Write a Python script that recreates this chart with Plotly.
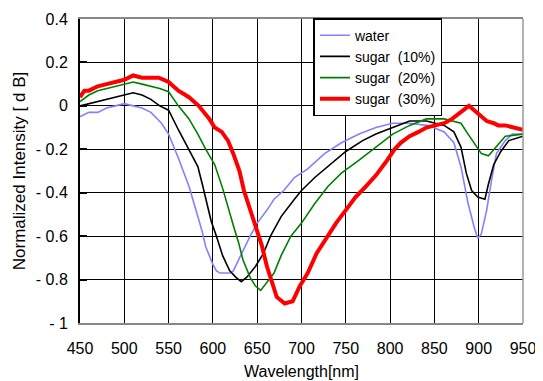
import plotly.graph_objects as go

# ---- data ----
water_wl = [450,460,470,480,490,500,510,520,530,542,550,561,573,583,588,592,600,604,608,614,619,623,630,642,650,661,669,680,692,707,726,745,765,784,803,822,841,849,861,872,880,888,895,899,903,909,915,920,930,938,950]
water_v = [-0.05,-0.03,-0.03,-0.01,0.0,0.01,0.0,-0.01,-0.03,-0.08,-0.13,-0.24,-0.37,-0.51,-0.58,-0.65,-0.73,-0.76,-0.77,-0.77,-0.77,-0.76,-0.70,-0.60,-0.54,-0.48,-0.43,-0.39,-0.33,-0.29,-0.22,-0.17,-0.13,-0.10,-0.08,-0.08,-0.09,-0.10,-0.12,-0.17,-0.28,-0.45,-0.56,-0.61,-0.59,-0.48,-0.33,-0.22,-0.16,-0.13,-0.13]

s10_wl = [450,460,470,480,490,500,510,520,530,540,550,561,573,583,588,592,598,604,611,619,626,632,638,648,657,665,677,692,700,715,730,750,769,784,803,822,841,861,872,880,886,892,899,907,911,917,925,934,950]
s10_v = [0.0,0.01,0.02,0.03,0.04,0.05,0.06,0.05,0.03,0.0,-0.02,-0.11,-0.20,-0.28,-0.36,-0.43,-0.53,-0.60,-0.69,-0.76,-0.79,-0.81,-0.79,-0.74,-0.68,-0.60,-0.51,-0.43,-0.39,-0.33,-0.28,-0.21,-0.16,-0.13,-0.10,-0.07,-0.07,-0.09,-0.12,-0.19,-0.31,-0.39,-0.42,-0.43,-0.36,-0.27,-0.21,-0.16,-0.14]

s20_wl = [450,460,470,480,490,500,510,520,530,540,550,561,573,583,592,602,611,617,623,629,634,642,648,654,661,669,677,688,700,715,730,745,765,784,803,822,841,861,880,888,895,903,911,919,930,950]
s20_v = [0.02,0.05,0.07,0.08,0.09,0.10,0.11,0.10,0.09,0.08,0.065,0.0,-0.06,-0.13,-0.20,-0.27,-0.38,-0.47,-0.55,-0.63,-0.71,-0.79,-0.83,-0.85,-0.81,-0.77,-0.69,-0.60,-0.54,-0.45,-0.37,-0.31,-0.25,-0.19,-0.13,-0.09,-0.06,-0.06,-0.08,-0.13,-0.17,-0.22,-0.23,-0.19,-0.14,-0.13]

s30_wl = [450,455,460,470,480,490,500,510,520,530,539,550,561,573,584,596,602,610,617,623,630,635,642,650,655,661,667,672,681,690,698,707,717,728,739,750,761,773,784,795,805,812,822,832,841,851,861,870,876,882,889,892,898,903,909,917,922,930,940,950]
s30_v = [0.04,0.07,0.07,0.09,0.10,0.11,0.12,0.14,0.13,0.13,0.13,0.11,0.07,0.04,0.0,-0.06,-0.10,-0.12,-0.16,-0.22,-0.30,-0.39,-0.48,-0.57,-0.64,-0.74,-0.82,-0.88,-0.91,-0.90,-0.83,-0.77,-0.68,-0.61,-0.54,-0.48,-0.42,-0.37,-0.32,-0.26,-0.20,-0.17,-0.14,-0.12,-0.10,-0.09,-0.08,-0.06,-0.04,-0.02,0.0,-0.01,-0.03,-0.05,-0.07,-0.08,-0.09,-0.09,-0.10,-0.11]

series_names = ["water", "sugar\u00a0 (10%)", "sugar\u00a0 (20%)", "sugar\u00a0 (30%)"]

x_ticks = [450, 500, 550, 600, 650, 700, 750, 800, 850, 900, 950]
y_ticks = [0.4, 0.2, 0, -0.2, -0.4, -0.6, -0.8, -1]
y_ticktext = ["0.4", "0.2", "0", "- 0.2", "- 0.4", "- 0.6", "- 0.8", "- 1"]

FONT = "Liberation Sans, Arial, sans-serif"

fig = go.Figure()
styles = [("#8282ff", 1.6), ("#000000", 1.6), ("#008000", 1.6), ("#ff0000", 4)]
for (wl, v), name, (c, w) in zip([(water_wl, water_v), (s10_wl, s10_v), (s20_wl, s20_v), (s30_wl, s30_v)], series_names, styles):
    fig.add_trace(go.Scatter(x=wl, y=v, mode="lines", name=name,
                             line=dict(color=c, width=w)))

# page body has an 8px margin, so the figure is 8px smaller and margins shifted
fig.update_layout(
    width=535, height=373,
    margin=dict(l=72, r=20, t=11, b=58, autoexpand=False),
    paper_bgcolor="white", plot_bgcolor="white",
    font=dict(family=FONT, size=16, color="black"),
    showlegend=True,
    legend=dict(x=0.527, y=1.003, xanchor="left", yanchor="top",
                bgcolor="white", bordercolor="black", borderwidth=1.5,
                font=dict(size=14), tracegroupgap=0, itemwidth=30),
    xaxis=dict(range=[450, 950], tickvals=x_ticks, showgrid=True, automargin=False,
               gridcolor="black", gridwidth=1.3, zeroline=False,
               showline=True, linecolor="#888888", linewidth=1.5, mirror=True,
               ticks="", ticklabelstandoff=10, ticklabeloverflow="allow",
               title=dict(text="Wavelength[nm]", font=dict(size=16), standoff=10)),
    yaxis=dict(range=[-1, 0.4], tickvals=y_ticks, ticktext=y_ticktext, automargin=False,
               showgrid=True, gridcolor="black", gridwidth=1.3, zeroline=False,
               showline=True, linecolor="black", linewidth=2,
               ticks="inside", ticklen=7, tickcolor="black", tickwidth=2,
               ticklabelstandoff=7, ticklabeloverflow="allow",
               title=dict(text="Normalized Intensity [ d B]", font=dict(size=17), standoff=6)),
    shapes=[dict(type="line", xref="paper", yref="paper", x0=1, x1=1, y0=0, y1=1,
                 line=dict(color="#999999", width=1.5), layer="above")],
)

fig.write_html("out.html")
